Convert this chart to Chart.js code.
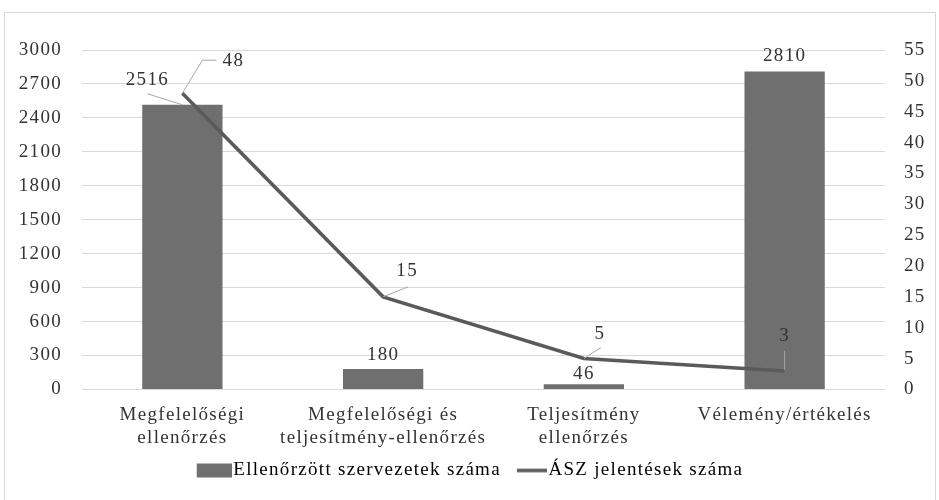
<!DOCTYPE html>
<html>
<head>
<meta charset="utf-8">
<script src="https://cdn.jsdelivr.net/npm/chart.js@4/dist/chart.umd.min.js"></script>
<style>
  html, body { margin: 0; padding: 0; background: #ffffff; }
  #wrap { position: relative; width: 939px; height: 500px; }
</style>
</head>
<body>
<div id="wrap"><canvas id="c" width="939" height="500"></canvas></div>
<script>
// ---- data ----
const categories = [
  ['Megfelelőségi', 'ellenőrzés'],
  ['Megfelelőségi és', 'teljesítmény-ellenőrzés'],
  ['Teljesítmény', 'ellenőrzés'],
  'Vélemény/értékelés'
];
const orgCounts = [2516, 180, 46, 2810];
const reportCounts = [48, 15, 5, 3];
const leftTicks = [0, 300, 600, 900, 1200, 1500, 1800, 2100, 2400, 2700, 3000];
const rightTicks = [0, 5, 10, 15, 20, 25, 30, 35, 40, 45, 50, 55];
const seriesNames = ['Ellenőrzött szervezetek száma', 'ÁSZ jelentések száma'];

// ---- label layout (pixel offsets from the element, not data) ----
const barLabelLayout = [
  { dx: -35, dy: -25, leader: [[-35, -11], [0, 0]] },
  { dx: 0, dy: -14 },
  { dx: 0, dy: -10 },
  { dx: 0, dy: -15 }
];
const lineLabelLayout = [
  { dx: 51, dy: -32, leader: [[0, 0], [20, -33], [34, -33]] },
  { dx: 24, dy: -26, leader: [[0, 0], [25, -10]] },
  { dx: 16, dy: -25, leader: [[0, 0], [17, -11]] },
  { dx: 0, dy: -35, leader: [[0, -1], [0, -20]] }
];

const FONT = '"Liberation Serif", "Times New Roman", serif';
const FS = 19;
const TXT = '#333333';
const SPACING = '1.3px';
const BAR_COLOR = '#6f6f6f';
const LINE_COLOR = '#5a5a5a';

// legend swatches (images so the swatch can sit close to its text)
function makeSwatch(kind) {
  const c = document.createElement('canvas');
  c.width = 44; c.height = 16;
  const g = c.getContext('2d');
  if (kind === 'bar') {
    g.fillStyle = BAR_COLOR;
    g.fillRect(9, 1, 35, 14);
  } else {
    g.strokeStyle = LINE_COLOR;
    g.lineWidth = 3.5;
    g.beginPath();
    g.moveTo(14, 8);
    g.lineTo(44, 8);
    g.stroke();
  }
  return c;
}
const barSwatch = makeSwatch('bar');
const lineSwatch = makeSwatch('line');

const spacingPlugin = {
  id: 'spacing',
  beforeUpdate(chart) { chart.ctx.letterSpacing = SPACING; },
  beforeLayout(chart) { chart.ctx.letterSpacing = SPACING; },
  beforeDraw(chart) {
    const ctx = chart.ctx;
    ctx.letterSpacing = SPACING;
    ctx.save();
    ctx.strokeStyle = '#d9d9d9';
    ctx.lineWidth = 1;
    ctx.strokeRect(4.5, 12.5, 931, 500);
    ctx.restore();
  }
};

const labelPlugin = {
  id: 'valueLabels',
  afterDatasetsDraw(chart) {
    const ctx = chart.ctx;
    ctx.save();
    ctx.font = FS + 'px ' + FONT;
    ctx.fillStyle = TXT;
    ctx.textAlign = 'center';
    ctx.textBaseline = 'middle';
    const draw = (meta, values, layout) => {
      meta.data.forEach((el, i) => {
        const L = layout[i];
        const x = el.x, y = el.y;
        if (L.leader) {
          ctx.beginPath();
          ctx.strokeStyle = '#a6a6a6';
          ctx.lineWidth = 1;
          L.leader.forEach((p, k) => {
            if (k === 0) ctx.moveTo(x + p[0], y + p[1]);
            else ctx.lineTo(x + p[0], y + p[1]);
          });
          ctx.stroke();
        }
        ctx.fillText(String(values[i]), x + L.dx, y + L.dy);
      });
    };
    draw(chart.getDatasetMeta(0), orgCounts, barLabelLayout);
    draw(chart.getDatasetMeta(1), reportCounts, lineLabelLayout);
    ctx.restore();
  }
};

Chart.defaults.font.family = FONT;
Chart.defaults.font.size = FS;
Chart.defaults.color = TXT;

new Chart(document.getElementById('c'), {
  data: {
    labels: categories,
    datasets: [
      {
        type: 'bar',
        label: seriesNames[0],
        data: orgCounts,
        backgroundColor: BAR_COLOR,
        borderWidth: 0,
        yAxisID: 'y',
        barPercentage: 0.4,
        categoryPercentage: 1.0,
        order: 2
      },
      {
        type: 'line',
        label: seriesNames[1],
        data: reportCounts,
        borderColor: LINE_COLOR,
        backgroundColor: LINE_COLOR,
        borderWidth: 3.5,
        pointRadius: 0,
        tension: 0,
        yAxisID: 'y1',
        order: 1
      }
    ]
  },
  options: {
    responsive: false,
    animation: false,
    devicePixelRatio: 1,
    layout: { padding: { top: 50, left: 0, right: 0, bottom: 10 } },
    plugins: {
      tooltip: { enabled: false },
      legend: {
        position: 'bottom',
        labels: {
          usePointStyle: true,
          pointStyleWidth: 28,
          boxHeight: 13,
          padding: 10,
          color: TXT,
          font: { size: FS, family: FONT },
          generateLabels(chart) {
            return [
              { text: seriesNames[0], fillStyle: BAR_COLOR, strokeStyle: BAR_COLOR, lineWidth: 0, pointStyle: barSwatch, datasetIndex: 0 },
              { text: seriesNames[1], fillStyle: LINE_COLOR, strokeStyle: LINE_COLOR, lineWidth: 0, pointStyle: lineSwatch, datasetIndex: 1 }
            ];
          }
        }
      }
    },
    scales: {
      x: {
        afterFit(scale) { scale.height = scale.height - 12; },
        grid: { display: false, drawTicks: false },
        border: { display: false },
        ticks: { padding: 14, maxRotation: 0, autoSkip: false, color: TXT, font: { size: FS, lineHeight: 1.2 } }
      },
      y: {
        position: 'left',
        min: 0, max: 3000,
        afterBuildTicks(scale) { scale.ticks = leftTicks.map(v => ({ value: v })); },
        afterFit(scale) { scale.width = 82; },
        grid: { color: '#d9d9d9', lineWidth: 1, drawTicks: false },
        border: { display: false },
        ticks: { padding: 20, color: TXT, callback: v => String(v) }
      },
      y1: {
        position: 'right',
        min: 0, max: 55,
        afterBuildTicks(scale) { scale.ticks = rightTicks.map(v => ({ value: v })); },
        afterFit(scale) { scale.width = 54; },
        grid: { display: false, drawTicks: false },
        border: { display: false },
        ticks: { padding: 19, color: TXT, callback: v => String(v) }
      }
    }
  },
  plugins: [spacingPlugin, labelPlugin]
});
</script>
</body>
</html>
